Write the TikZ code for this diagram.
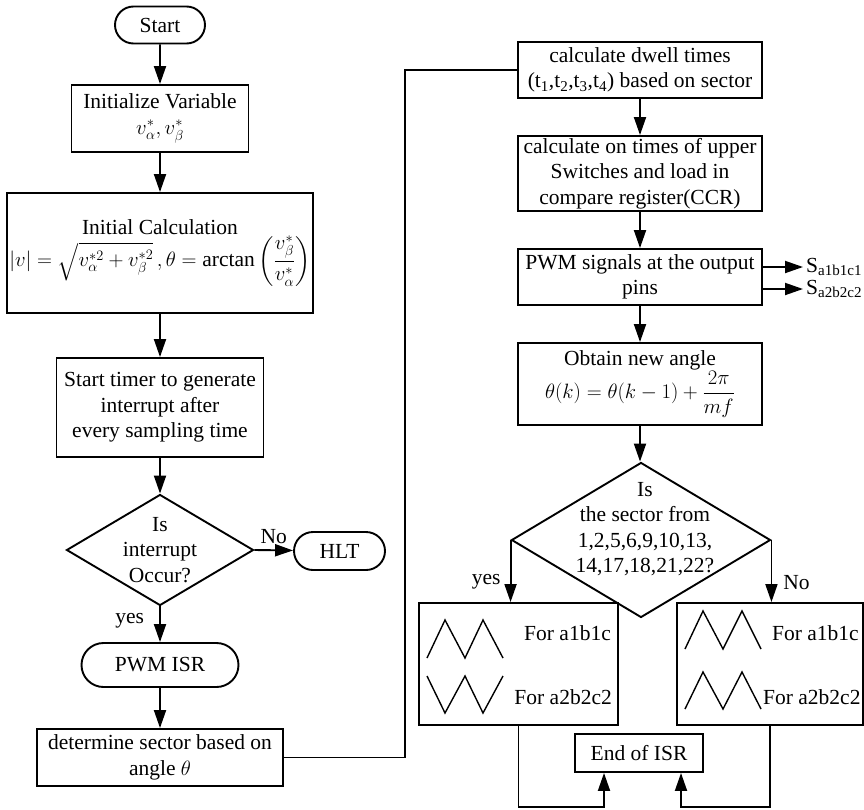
\documentclass[tikz,border=0pt]{standalone}
\usepackage{amsmath}
\usepackage{fontspec}
\setmainfont{Liberation Serif}
\usepackage{tikz}
\usetikzlibrary{shapes.geometric,shapes.misc,arrows.meta,positioning,calc}
\definecolor{fcInk}{HTML}{000000}
\newcommand{\fcfont}{\fontsize{21.5}{25.5}\selectfont}
\tikzset{
  fc/.style={draw=fcInk,line width=1.9pt,text=fcInk,align=center,inner sep=2pt,font=\fcfont},
  fcbox/.style={fc,rectangle},
  fcterm/.style={fc,rounded rectangle},
  fcdec/.style={fc,diamond,inner sep=0pt},
  fcflow/.style={-{Triangle[length=18pt,width=12pt]},draw=fcInk,line width=1.9pt},
  fcline/.style={draw=fcInk,line width=1.9pt},
  fcwave/.style={draw=fcInk,line width=1.4pt},
  fclbl/.style={font=\fcfont,text=fcInk,inner sep=1pt,align=center},
}

\begin{document}
\begin{tikzpicture}[x=1pt,y=-1pt]
  \useasboundingbox (0,0) rectangle (864,809);

  % Start-up and the wait for the interrupt, left column.
  \node[fcterm,minimum width=94pt,minimum height=37pt] (start) at (160,25) {Start};
  \node[fcbox,minimum width=177pt,minimum height=67pt] (init) at (160,118.5) {Initialize Variable\\$v_\alpha^*,v_\beta^*$};
  \node[fcbox,minimum width=298pt,minimum height=120pt] (calc) at (160,253) {Initial Calculation\\$\lvert v\rvert=\sqrt{v_\alpha^{*2}+v_\beta^{*2}}\,,\theta=\arctan\left(\dfrac{v_\beta^*}{v_\alpha^*}\right)$};
  \node[fcbox,minimum width=207pt,minimum height=99pt] (timer) at (160,407.5) {Start timer to generate\\interrupt after\\every sampling time};
  \node[fcdec,minimum width=187pt,minimum height=111pt] (isint) at (160,550) {};
  \node[fclbl] (isintTxt) at (isint) {Is\\interrupt\\Occur?};
  \node[fcterm,minimum width=95pt,minimum height=38pt] (hlt) at (339.5,551) {HLT};
  \node[fcterm,minimum width=161pt,minimum height=44pt] (isr) at (160,665) {PWM ISR};
  \node[fcbox,minimum width=246pt,minimum height=57pt] (sector) at (160,757.5) {determine sector based on\\angle $\theta$};

  \draw[fcflow] (start) -- (init);
  \draw[fcflow] (init) -- (calc);
  \draw[fcflow] (calc) -- (timer);
  \draw[fcflow] (timer) -- (isint);
  \draw[fcflow] (isint.east) -- node[fclbl,above=5pt]{No} (hlt);
  \draw[fcflow] (isint) -- node[fclbl,left=14pt,pos=0.4]{yes} (isr);
  \draw[fcflow] (isr) -- (sector);

  % The interrupt routine, right column.
  \node[fcbox,minimum width=244pt,minimum height=56pt] (dwell) at (640,70) {calculate dwell times\\(t\textsubscript{1},t\textsubscript{2},t\textsubscript{3},t\textsubscript{4}) based on sector};
  \node[fcbox,minimum width=244pt,minimum height=75pt] (ontime) at (640,173.5) {calculate on times of upper\\Switches and load in\\compare register(CCR)};
  \node[fcbox,minimum width=244pt,minimum height=56pt] (pwm) at (640,277) {PWM signals at the output\\pins};
  \node[fcbox,minimum width=244pt,minimum height=82pt] (angle) at (640,384) {Obtain new angle\\$\theta(k)=\theta(k-1)+\dfrac{2\pi}{mf}$};
  \node[fcdec,minimum width=259pt,minimum height=155pt] (sectq) at (641,540) {};
  \node[fclbl] (sectqTxt) at (645,529) {Is\\the sector from\\1,2,5,6,9,10,13,\\14,17,18,21,22?};
  \node[fcbox,minimum width=199pt,minimum height=122pt] (yesbox) at (518.5,664) {};
  \node[fcbox,minimum width=186pt,minimum height=122pt] (nobox) at (770,664) {};
  \node[fcbox,minimum width=128pt,minimum height=38pt] (endisr) at (639,753) {End of ISR};
  \node[fclbl,anchor=west,inner sep=3pt] (s1) at (803,267) {S\textsubscript{a1b1c1}};
  \node[fclbl,anchor=west,inner sep=3pt] (s2) at (803,289) {S\textsubscript{a2b2c2}};

  \node[fclbl,anchor=east] (yesA) at (612,633) {For a1b1c};
  \node[fclbl,anchor=east] (yesB) at (613,697) {For a2b2c2};
  \node[fclbl,anchor=west] (noA) at (771,633) {For a1b1c};
  \node[fclbl,anchor=west] (noB) at (762,697) {For a2b2c2};
  \draw[fcwave] (427,658) -- ++(18,-38) -- ++(20,38) -- ++(18,-38) -- ++(20,38);
  \draw[fcwave] (427,676) -- ++(18,37) -- ++(20,-37) -- ++(18,37) -- ++(20,-37);
  \draw[fcwave] (685,649) -- ++(18,-38) -- ++(20,38) -- ++(19,-38) -- ++(19,38);
  \draw[fcwave] (685,709) -- ++(18,-37) -- ++(20,37) -- ++(19,-37) -- ++(19,37);

  % Jump from the sector test over to the dwell times.
  \coordinate (jmp) at (405,757.5);
  \draw[fcline] (sector.east) -- (jmp) |- (dwell.west);

  \draw[fcflow] (dwell) -- (ontime);
  \draw[fcflow] (ontime) -- (pwm);
  \draw[fcflow] (pwm) -- (angle);
  \draw[fcflow] (angle.south) -- (angle.south |- sectq.north);
  \draw[fcflow] (s1.west -| pwm.east) -- (s1.west);
  \draw[fcflow] (s2.west -| pwm.east) -- (s2.west);
  \draw[fcflow] (sectq.west) -- node[fclbl,left=8pt,pos=0.68]{yes} (sectq.west |- yesbox.north);
  \draw[fcflow] (sectq.east) -- node[fclbl,right=10pt,pos=0.68]{No} (sectq.east |- nobox.north);

  % Both branches come back to the end of the routine.
  \draw[fcflow] (yesbox.south) -- ++(0,81) -| ([xshift=-35pt]endisr.south);
  \draw[fcflow] (nobox.south) -- ++(0,81) -| ([xshift=42pt]endisr.south);
\end{tikzpicture}
\end{document}
